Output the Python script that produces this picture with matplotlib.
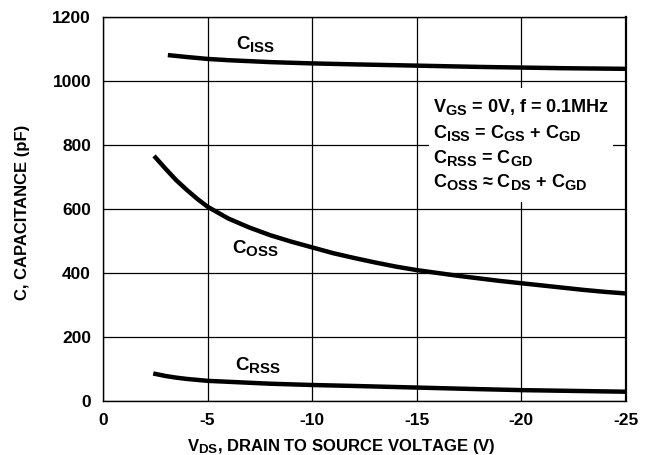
import matplotlib
matplotlib.use('Agg')
import matplotlib.pyplot as plt
import matplotlib._mathtext as mathtext_internal
from matplotlib.patches import Rectangle

# Data (V_DS in volts, capacitance in pF)
vds_ciss = [-3.1, -4, -5, -6, -7, -8, -10, -12, -15, -18, -20, -22, -25]
ciss = [1081, 1075, 1069, 1065, 1062, 1059, 1055, 1052, 1048, 1044, 1042, 1040, 1038]

vds_coss = [-2.44, -3, -3.5, -4, -4.5, -5, -6, -7, -8, -9, -10, -11, -12, -13,
            -14, -15, -16, -17, -18, -19, -20, -21, -22, -23, -24, -25]
coss = [766, 725, 690, 660, 632, 607, 570, 542, 518, 498, 480, 462, 447, 433,
        420, 409, 400, 391, 383, 375, 368, 361, 354, 347, 341, 336]

vds_crss = [-2.4, -3, -3.5, -4, -5, -6, -7, -8, -10, -12, -15, -18, -20, -22, -25]
crss = [86, 78, 73, 69, 63, 60, 57, 54, 50, 47, 42, 37, 34, 32, 29]

x_ticks = [0, -5, -10, -15, -20, -25]
x_ticklabels = ['0', '-5', '-10', '-15', '-20', '-25']
y_ticks = [0, 200, 400, 600, 800, 1000, 1200]

note_lines = [
    'V$_{\\mathrm{GS}}$ = 0V, f = 0.1MHz',
    'C$_{\\mathrm{ISS}}$ = C$_{\\mathrm{GS}}$ + C$_{\\mathrm{GD}}$',
    'C$_{\\mathrm{RSS}}$ = C$_{\\mathrm{GD}}$',
    'C$_{\\mathrm{OSS}}$ \u2248 C$_{\\mathrm{DS}}$ + C$_{\\mathrm{GD}}$',
]

# subscripts in the datasheet are only slightly smaller than the main text
mathtext_internal.SHRINK_FACTOR = 0.8

plt.rcParams['font.family'] = ['Liberation Sans', 'DejaVu Sans']
plt.rcParams['font.weight'] = 'bold'
plt.rcParams['axes.labelweight'] = 'bold'
plt.rcParams['mathtext.fontset'] = 'custom'
plt.rcParams['mathtext.rm'] = 'Liberation Sans:bold'
plt.rcParams['mathtext.it'] = 'Liberation Sans:bold'
plt.rcParams['mathtext.bf'] = 'Liberation Sans:bold'

fig = plt.figure(figsize=(6.5, 4.55), dpi=100)
ax = fig.add_axes([103 / 650, 54 / 455, 523 / 650, 384 / 455])

ax.set_xlim(0, -25)
ax.set_ylim(0, 1200)
ax.set_xticks(x_ticks)
ax.set_xticklabels(x_ticklabels)
ax.set_yticks(y_ticks)
ax.tick_params(length=0, pad=8.6, labelsize=12.5)
ax.grid(True, color='black', linewidth=0.9)
ax.set_axisbelow(True)
for s in ax.spines.values():
    s.set_linewidth(1.0)
ax.spines['right'].set_linewidth(1.6)

# curves
kw = dict(color='black', linewidth=3.2, solid_capstyle='butt', zorder=3)
ax.plot(vds_ciss, ciss, **kw)
ax.plot(vds_coss, coss, **kw)
ax.plot(vds_crss, crss, **kw)

# curve labels
ax.text(-7.3, 1100, 'C$_{\\mathrm{ISS}}$', fontsize=13.5, ha='center', va='baseline')
ax.text(-7.3, 463, 'C$_{\\mathrm{OSS}}$', fontsize=13.5, ha='center', va='baseline')
ax.text(-7.4, 97, 'C$_{\\mathrm{RSS}}$', fontsize=13.5, ha='center', va='baseline')

# note box: white patch over the grid, leaving short stubs of the grid lines
ax.add_patch(Rectangle((-15.56, 978), -8.83, -356, facecolor='white',
                       edgecolor='none', zorder=1))
for y, line in zip([904, 821, 743, 670], note_lines):
    ax.text(-15.77, y, line, fontsize=13, ha='left', va='baseline', zorder=4)

ax.set_xlabel('V$_{\\mathrm{DS}}$, DRAIN TO SOURCE VOLTAGE (V)', fontsize=12)
ax.set_ylabel('C, CAPACITANCE (pF)', fontsize=12)
ax.xaxis.set_label_coords((341 - 103) / 523, -36 / 384)
ax.yaxis.set_label_coords((30 - 103) / 523, 0.49)

fig.savefig('out.png', dpi=100)
